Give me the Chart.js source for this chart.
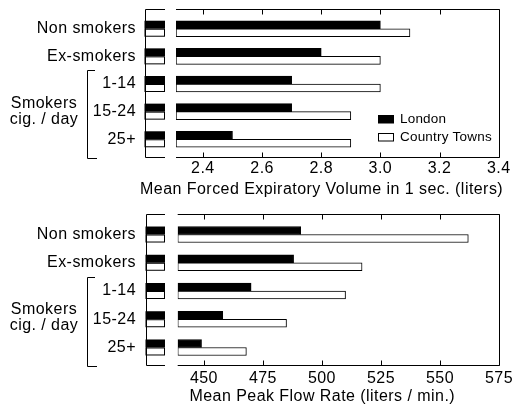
<!DOCTYPE html>
<html>
<head>
<meta charset="utf-8">
<script src="https://cdn.jsdelivr.net/npm/chart.js@4.4.0/dist/chart.umd.min.js"></script>
<style>
  html, body { margin: 0; padding: 0; background: #fff; }
  #wrap { position: relative; width: 515px; height: 407px; }
  canvas { position: absolute; left: 0; }
  #fev { top: 0; }
  #pefr { top: 200px; }
</style>
</head>
<body>
<div id="wrap">
  <canvas id="fev" width="515" height="200"></canvas>
  <canvas id="pefr" width="515" height="207"></canvas>
</div>
<script>
// Smoking groups and the two areas compared
const groups = ['Non smokers', 'Ex-smokers', '1-14', '15-24', '25+'];
const smokerNote = ['Smokers', 'cig. / day'];
const seriesNames = ['London', 'Country Towns'];

// Mean forced expiratory volume in 1 sec. (liters)
const fevLondon = [3.0, 2.8, 2.7, 2.7, 2.5];
const fevCountry = [3.1, 3.0, 3.0, 2.9, 2.9];
const fevTicks = [2.4, 2.6, 2.8, 3.0, 3.2, 3.4];
const fevTitle = 'Mean Forced Expiratory Volume in 1 sec. (liters)';

// Mean peak flow rate (liters / min.)
const pefrLondon = [491, 488, 470, 458, 449];
const pefrCountry = [562, 517, 510, 485, 468];
const pefrTicks = [450, 475, 500, 525, 550, 575];
const pefrTitle = 'Mean Peak Flow Rate (liters / min.)';

const FONT = "'Liberation Sans', Arial, Helvetica, sans-serif";
Chart.defaults.font.family = FONT;
Chart.defaults.color = '#000';

// Frame, broken-axis stub, bracket, legend and axis title
const panelDecor = {
  id: 'panelDecor',
  beforeDraw(chart) {
    chart.ctx.letterSpacing = '0.45px';
  },
  afterDatasetsDraw(chart, args, o) {
    const ctx = chart.ctx;
    const area = chart.chartArea;
    const xs = chart.scales.x, ys = chart.scales.y;
    const fTop = area.top - o.frameTopGap;
    const fBot = area.bottom + o.frameBottomGap;
    ctx.save();
    ctx.letterSpacing = '0px';

    // stub segments of each bar, left of the axis break
    chart.data.datasets.forEach((ds, di) => {
      const meta = chart.getDatasetMeta(di);
      meta.data.forEach(el => {
        const h = el.height;
        const y0 = el.y - h / 2;
        ctx.fillStyle = ds.borderColor;
        ctx.fillRect(o.stubLeft, y0, o.stubRight - o.stubLeft, h);
        ctx.fillStyle = ds.backgroundColor;
        ctx.fillRect(o.stubLeft + 1, y0 + 1, o.stubRight - o.stubLeft - 2, h - 2);
      });
    });

    ctx.strokeStyle = '#000';
    ctx.lineWidth = 1;
    const snap = v => Math.round(v) + 0.5;
    ctx.beginPath();
    // stub box (open on its right)
    ctx.moveTo(o.stubRight, snap(fTop)); ctx.lineTo(snap(o.stubLeft), snap(fTop));
    ctx.lineTo(snap(o.stubLeft), snap(fBot)); ctx.lineTo(o.stubRight, snap(fBot));
    // main box (open on its left)
    ctx.moveTo(area.left, snap(fTop)); ctx.lineTo(snap(area.right), snap(fTop));
    ctx.lineTo(snap(area.right), snap(fBot)); ctx.lineTo(area.left, snap(fBot));
    // inward tick marks top and bottom
    xs.ticks.forEach(t => {
      const px = snap(xs.getPixelForValue(t.value));
      ctx.moveTo(px, snap(fTop)); ctx.lineTo(px, snap(fTop) + 5);
      ctx.moveTo(px, snap(fBot)); ctx.lineTo(px, snap(fBot) - 5);
    });
    // bracket around the smoker groups
    const bTop = ys.getPixelForValue(1.5);
    const bBot = fBot + 1;
    ctx.moveTo(95, snap(bTop)); ctx.lineTo(snap(o.bracketX), snap(bTop));
    ctx.lineTo(snap(o.bracketX), snap(bBot)); ctx.lineTo(97, snap(bBot));
    ctx.stroke();

    ctx.letterSpacing = '0.45px';
    ctx.fillStyle = '#000';
    ctx.font = '16px ' + FONT;
    ctx.textAlign = 'center';
    ctx.textBaseline = 'middle';
    const cy = ys.getPixelForValue(3) + o.noteShift;
    ctx.fillText(smokerNote[0], 44, cy - 8);
    ctx.fillText(smokerNote[1], 44, cy + 8);

    // axis title centred over the whole broken axis
    ctx.fillText(o.title, (o.stubLeft + area.right) / 2, o.titleY);

    // legend
    if (o.legend) {
      const L = o.legend;
      ctx.font = '13.5px ' + FONT;
      ctx.textAlign = 'left';
      ctx.letterSpacing = '0.2px';
      chart.data.datasets.forEach((ds, di) => {
        const by = L.y + di * L.gap;
        ctx.fillStyle = ds.borderColor;
        ctx.fillRect(L.x, by, 16, L.box);
        ctx.fillStyle = ds.backgroundColor;
        ctx.fillRect(L.x + 1, by + 1, 14, L.box - 2);
        ctx.fillStyle = '#000';
        ctx.fillText(ds.label, L.x + 22, by + L.box / 2 + 0.5);
      });
    }
    ctx.restore();
  }
};

function makePanel(id, london, country, tickValues, fmt, cfg) {
  const canvas = document.getElementById(id);
  const H = canvas.height;
  return new Chart(canvas, {
    type: 'bar',
    data: {
      labels: groups,
      datasets: [
        { label: seriesNames[0], data: london, backgroundColor: '#000', borderColor: '#000',
          borderWidth: 1, borderSkipped: false, barThickness: 8, base: cfg.min },
        { label: seriesNames[1], data: country, backgroundColor: '#fff', borderColor: '#000',
          borderWidth: 1, borderSkipped: false, barThickness: 8, base: cfg.min }
      ]
    },
    options: {
      indexAxis: 'y',
      responsive: false,
      animation: false,
      events: [],
      layout: { padding: { left: 0, top: cfg.top, right: 515 - cfg.right, bottom: 0 } },
      plugins: {
        legend: { display: false },
        tooltip: { enabled: false },
        panelDecor: cfg.decor
      },
      scales: {
        x: {
          type: 'linear',
          min: cfg.min,
          max: cfg.max,
          grid: { display: false, drawTicks: false },
          border: { display: false },
          afterBuildTicks: s => { s.ticks = tickValues.map(v => ({ value: v })); },
          afterFit: s => {
            s.height = H - cfg.bottom;
            s.paddingLeft = 0; s.paddingRight = 0;
          },
          ticks: {
            font: { size: 16 },
            color: '#000',
            padding: cfg.tickPad,
            maxRotation: 0,
            autoSkip: false,
            callback: v => fmt(v)
          }
        },
        y: {
          grid: { display: false, drawTicks: false },
          border: { display: false },
          afterFit: s => {
            s.width = cfg.left;
            s.paddingTop = 0; s.paddingBottom = 0;
          },
          ticks: { font: { size: 16 }, color: '#000', padding: cfg.left - 136 }
        }
      }
    },
    plugins: [panelDecor]
  });
}

makePanel('fev', fevLondon, fevCountry, fevTicks, v => v.toFixed(1), {
  min: 2.309, max: 3.4,
  left: 176, right: 498.7, top: 14.9, bottom: 153.1, tickPad: 6.3,
  decor: {
    frameTopGap: 5.9, frameBottomGap: 4.2, stubLeft: 144.5, stubRight: 165,
    bracketX: 86.7, noteShift: 0, titleY: 189.7, title: fevTitle,
    legend: { x: 378, y: 115, gap: 18, box: 8.5 }
  }
});

makePanel('pefr', pefrLondon, pefrCountry, pefrTicks, v => String(v), {
  min: 438.9, max: 575,
  left: 177.7, right: 499, top: 20.4, bottom: 161.6, tickPad: 7.5,
  decor: {
    frameTopGap: 6.1, frameBottomGap: 3.4, stubLeft: 145.5, stubRight: 165,
    bracketX: 86.7, noteShift: -2, titleY: 196.3, title: pefrTitle,
    legend: null
  }
});
</script>
</body>
</html>
